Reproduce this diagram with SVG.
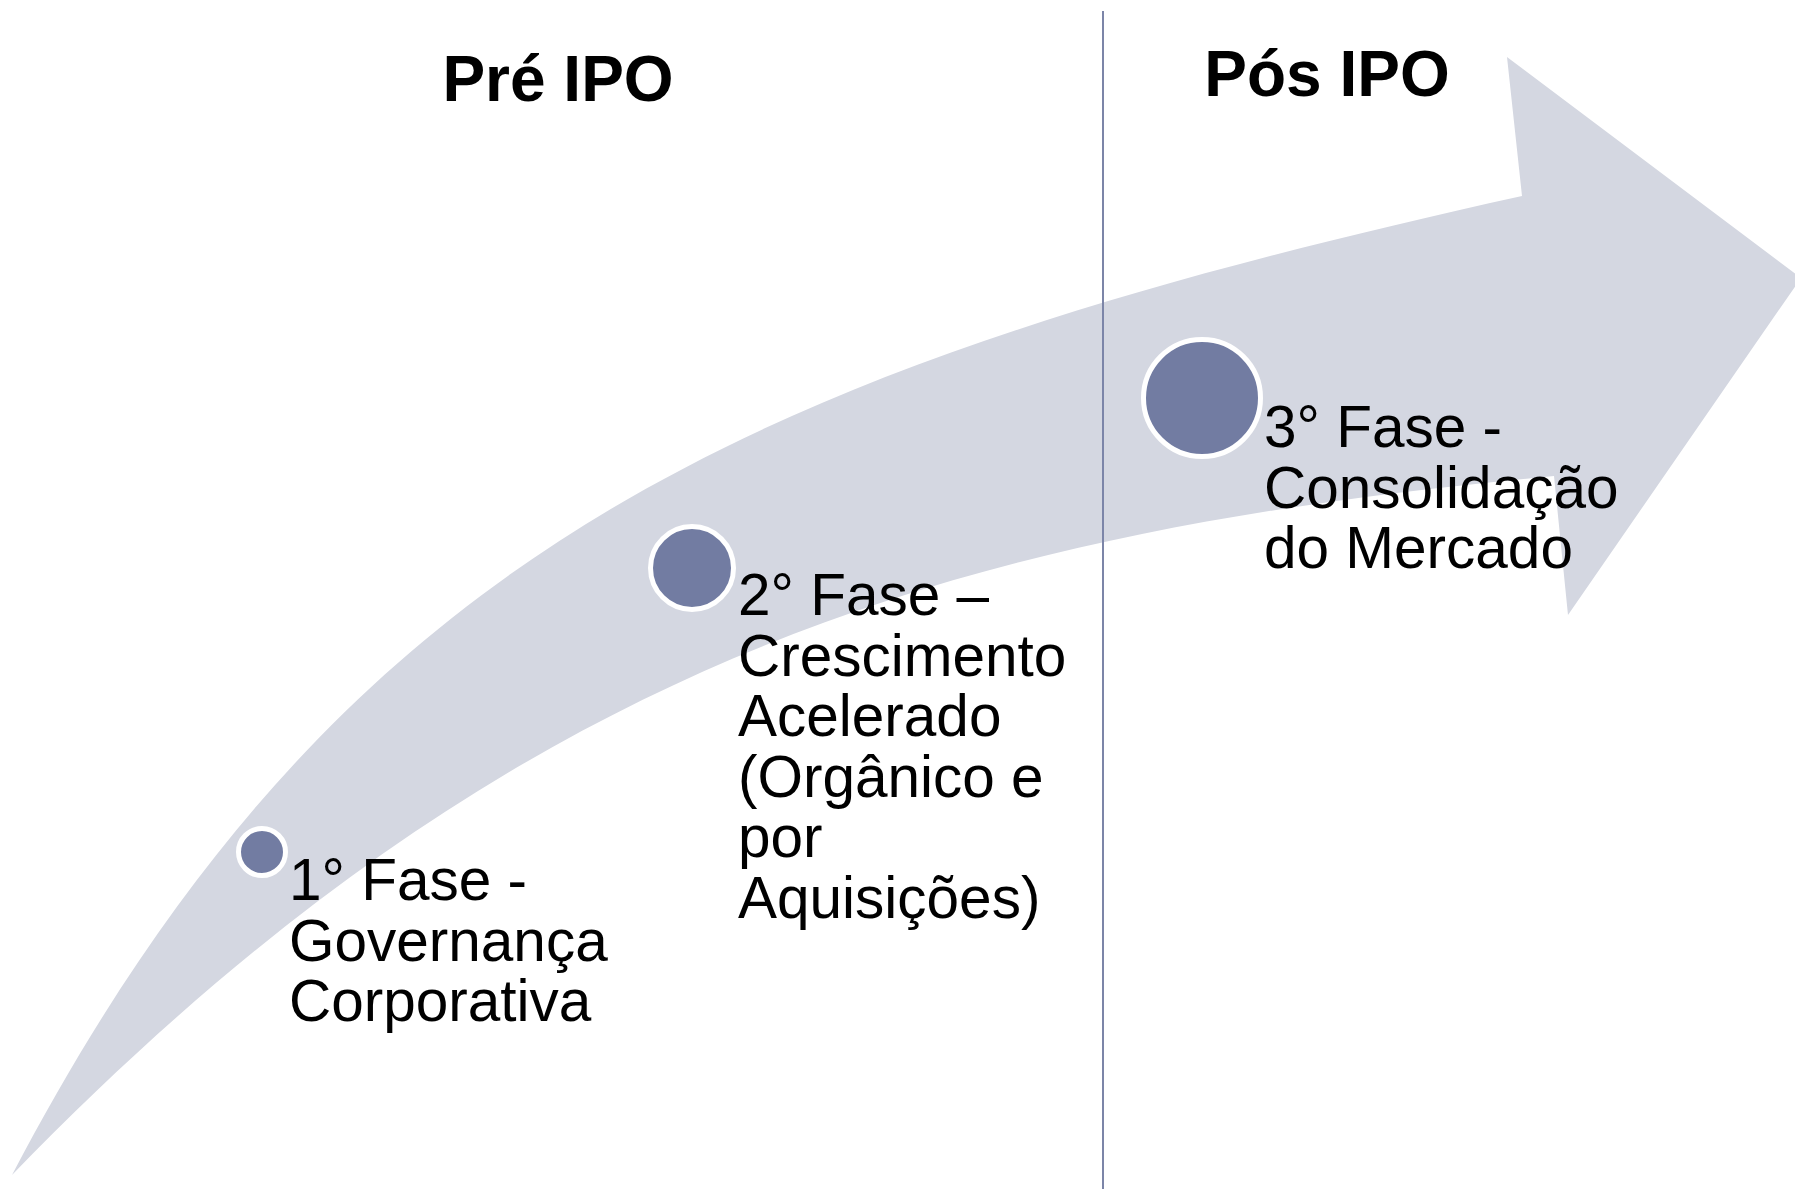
<svg xmlns="http://www.w3.org/2000/svg" width="1795" height="1189" viewBox="0 0 1795 1189">
<style>
.arrow{fill:#d4d7e1;stroke:none}
.dot{fill:#727ca2;stroke:#ffffff;stroke-width:5}
.lbl{font-family:"Liberation Sans",Arial,sans-serif;font-size:58.5px;fill:#000000}
.head{font-family:"Liberation Sans",Arial,sans-serif;font-size:64px;font-weight:bold;fill:#000000;text-anchor:middle}
.divider{stroke:#7c85a8;stroke-width:2;fill:none}
</style>
<rect width="1795" height="1189" fill="#ffffff"/>
<g id="arrow">
<path class="arrow" d="M12,1175 C337,555 741,369 1522,196 L1507,57 L1801,278 L1568,615 L1554,476 C957,532 513,658 12,1175 Z"/>
</g>
<g id="connectors">
<line class="divider" x1="1103" y1="11" x2="1103" y2="1189"/>
</g>
<g id="title-pre">
<text class="head" x="558" y="101">Pré IPO</text>
</g>
<g id="title-pos">
<text class="head" x="1327" y="96">Pós IPO</text>
</g>
<g id="fase1">
<circle class="dot" cx="262" cy="852" r="23.5"/>
<text class="lbl" x="289" y="900"><tspan x="289" y="900">1° Fase -</tspan><tspan x="289" y="960.5">Governança</tspan><tspan x="289" y="1021">Corporativa</tspan></text>
</g>
<g id="fase2">
<circle class="dot" cx="692" cy="568" r="41.5"/>
<text class="lbl" x="738" y="615"><tspan x="738" y="615">2° Fase –</tspan><tspan x="738" y="675.5">Crescimento</tspan><tspan x="738" y="736">Acelerado</tspan><tspan x="738" y="796.5">(Orgânico e</tspan><tspan x="738" y="857">por</tspan><tspan x="738" y="917.5">Aquisições)</tspan></text>
</g>
<g id="fase3">
<circle class="dot" cx="1202" cy="398" r="58.5"/>
<text class="lbl" x="1264" y="447"><tspan x="1264" y="447">3° Fase -</tspan><tspan x="1264" y="507.5">Consolidação</tspan><tspan x="1264" y="568">do Mercado</tspan></text>
</g>
</svg>
